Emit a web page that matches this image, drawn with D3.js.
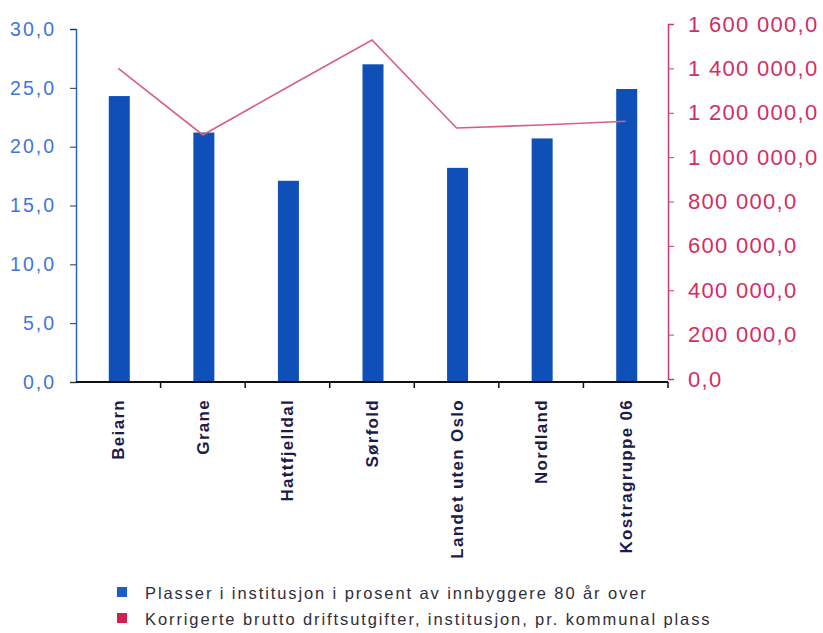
<!DOCTYPE html>
<html><head><meta charset="utf-8">
<script src="https://cdn.jsdelivr.net/npm/d3@7"></script>
<style>body{margin:0;background:#fff}svg{display:block}</style>
</head><body>
<svg id="c" width="823" height="633"></svg>
<script>
const categories = ["Beiarn","Grane","Hattfjelldal","Sørfold","Landet uten Oslo","Nordland","Kostragruppe 06"];
const plasser = [24.3, 21.2, 17.1, 27.0, 18.2, 20.7, 24.9];
const utgifter = [1400000, 1100000, 1315000, 1528000, 1131000, 1145000, 1162000];
const leftTicks = [0,5,10,15,20,25,30];
const rightTicks = [0,200000,400000,600000,800000,1000000,1200000,1400000,1600000];
const legendLabels = ["Plasser i institusjon i prosent av innbyggere 80 år over","Korrigerte brutto driftsutgifter, institusjon, pr. kommunal plass"];

const svg = d3.select("#c");
const L = 76, R = 668, T = 29, B = 382;
const FONT = "Liberation Sans, Arial, sans-serif";
const x = d3.scaleBand().domain(categories).range([L,R]).paddingInner(0).paddingOuter(0);
const yL = d3.scaleLinear().domain([0,30]).range([B,T]);
const yR = d3.scaleLinear().domain([0,1600000]).range([B-3,T-5]);
const fmtL = v => d3.format(".1f")(v).replace(".", ",");
const fmtR = v => d3.format(",.1f")(v).replace(/,/g," ").replace(".", ",");

// bars
const bw = 21;
svg.append("g").selectAll("rect").data(plasser).join("rect")
  .attr("x",(d,i)=>x(categories[i])+x.bandwidth()/2-bw/2+1)
  .attr("y",d=>yL(d)).attr("width",bw).attr("height",d=>B-yL(d))
  .attr("fill","#0f50b8");

// line
const line = d3.line().x((d,i)=>x(categories[i])+x.bandwidth()/2).y(d=>yR(d));
svg.append("path").datum(utgifter).attr("d",line).attr("fill","none")
  .attr("stroke","#d8607e").attr("stroke-width",1.6);

// left axis
const gl = svg.append("g").attr("transform",`translate(${L},0)`)
  .call(d3.axisLeft(yL).tickValues(leftTicks).tickFormat(fmtL).tickSize(6).tickPadding(14));
gl.select(".domain").attr("stroke","#2a62c8").attr("stroke-width",1.5);
gl.selectAll(".tick line").attr("stroke","#333");
gl.selectAll("text").attr("fill","#3f76dc").style("font-family",FONT).style("font-size","19.5px").style("letter-spacing","2px");

// right axis
const gr = svg.append("g").attr("transform",`translate(${R},0)`)
  .call(d3.axisRight(yR).tickValues(rightTicks).tickFormat(fmtR).tickSize(6).tickPadding(14));
gr.select(".domain").attr("stroke","#d03a6a").attr("stroke-width",1.5);
gr.selectAll(".tick line").attr("stroke","#d03a6a");
gr.selectAll("text").attr("fill","#d42d62").style("font-family",FONT).style("font-size","22px").style("letter-spacing","1.3px");

// x axis
const gx = svg.append("g").attr("transform",`translate(0,${B})`);
gx.append("line").attr("x1",L).attr("x2",R).attr("stroke","#111").attr("stroke-width",2);
const bounds = categories.map(c=>x(c)).concat([R]);
gx.selectAll("line.t").data(bounds.slice(1)).join("line").attr("class","t")
  .attr("x1",d=>d).attr("x2",d=>d).attr("y1",0).attr("y2",6).attr("stroke","#111").attr("stroke-width",1.5);
gx.selectAll("text").data(categories).join("text")
  .attr("transform",d=>`translate(${x(d)+x.bandwidth()/2+6},17) rotate(-90)`)
  .attr("text-anchor","end")
  .style("font-family",FONT).style("font-size","17px").style("font-weight","bold").style("letter-spacing","1.3px")
  .attr("fill","#1d1b48").text(d=>d);

// legend
const leg = svg.append("g");
const legColors = ["#1a5fc8","#d4204a"];
legendLabels.forEach((t,i)=>{
  const y0 = 594 + i*26;
  leg.append("rect").attr("x",117).attr("y",y0-7).attr("width",10).attr("height",10).attr("fill",legColors[i]);
  leg.append("text").attr("x",145).attr("y",y0+5).text(t)
    .style("font-family",FONT).style("font-size","16.5px").style("letter-spacing","1.9px").attr("fill","#2e2e3a");
});
</script>
</body></html>
